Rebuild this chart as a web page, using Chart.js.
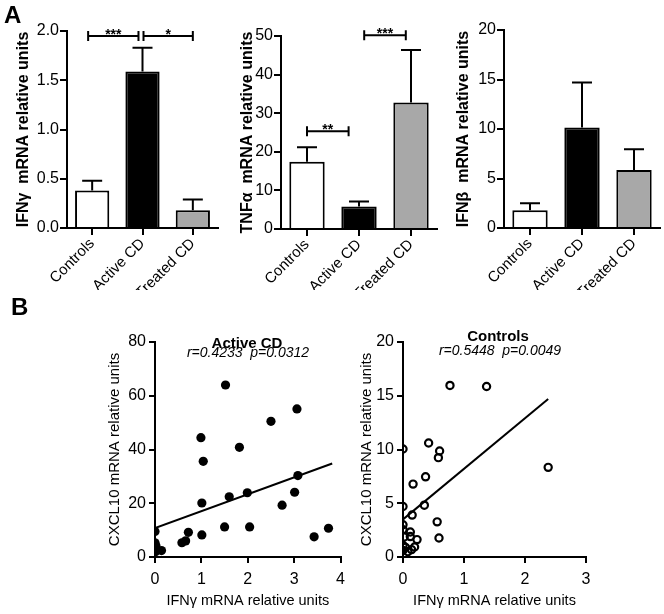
<!DOCTYPE html>
<html>
<head>
<meta charset="utf-8">
<script src="https://cdn.jsdelivr.net/npm/chart.js@4.4.1/dist/chart.umd.min.js"></script>
<style>
  body { margin: 0; background: #fff; }
  #fig { position: relative; width: 664px; height: 614px; font-family: Arial, 'Liberation Sans', sans-serif; color: #000; }
  canvas { position: absolute; }
  .txt { position: absolute; transform: translate(-50%, -50%); white-space: nowrap; }
  .panel { position: absolute; font-weight: bold; font-size: 24px; line-height: 1; }
</style>
</head>
<body>
<div id="fig">
  <canvas id="c1" width="222" height="290" style="left:0;top:0"></canvas>
  <canvas id="c2" width="218" height="290" style="left:222px;top:0"></canvas>
  <canvas id="c3" width="224" height="290" style="left:440px;top:0"></canvas>
  <canvas id="c4" width="352" height="324" style="left:0;top:290px"></canvas>
  <canvas id="c5" width="312" height="324" style="left:352px;top:290px"></canvas>

  <div class="panel" style="left:4px;top:3px">A</div>
  <div class="panel" style="left:11px;top:295px">B</div>

  <div class="txt" style="left:247px;top:342px;font-weight:bold;font-size:15px">Active CD</div>
  <div class="txt" style="left:248px;top:352px;font-style:italic;font-size:14px">r=0.4233&nbsp;&nbsp;p=0.0312</div>
  <div class="txt" style="left:498px;top:335px;font-weight:bold;font-size:15px">Controls</div>
  <div class="txt" style="left:500px;top:350px;font-style:italic;font-size:14px">r=0.5448&nbsp;&nbsp;p=0.0049</div>
</div>

<script>
// groupes
const categories = ['Controls', 'Active CD', 'Treated CD'];
const barColors = ['#ffffff', '#000000', '#a8a8a8'];

// panel A : moyennes + SEM
const ifngMean = [0.38, 1.59, 0.18];
const ifngSem = [0.10, 0.24, 0.11];
const tnfMean = [17.4, 5.8, 32.8];
const tnfSem = [3.8, 1.3, 13.6];
const ifnbMean = [1.8, 10.15, 5.85];
const ifnbSem = [0.7, 4.55, 2.1];

// significativité (positions en index de catégorie)
const ifngBrackets = [
  { from: -0.08, to: 0.92, y: 1.95, label: '***' },
  { from: 1.02, to: 2.0, y: 1.95, label: '*' }
];
const tnfBrackets = [
  { from: 0, to: 0.8, y: 25.3, label: '**' },
  { from: 1.1, to: 1.9, y: 50.2, label: '***' }
];

// panel B : Active CD
const activeX = [1.52, 3.06, 2.50, 0.99, 1.82, 1.04, 3.08, 3.01, 1.99, 1.60, 1.01, 2.74, 1.50,
                 2.04, 3.74, 3.43, 1.01, 0.72, 0.66, 0.58, 0, 0, 0, 0.14, 0.02, 0.01];
const activeY = [64.0, 55.1, 50.5, 44.4, 40.8, 35.6, 30.3, 24.1, 23.9, 22.4, 20.1, 19.3, 11.2,
                 11.2, 10.7, 7.5, 8.2, 9.2, 6.0, 5.3, 9.5, 5.3, 3.5, 2.4, 4.2, 2.0];
const activeFitX = [0, 3.82];
const activeFitY = [10.8, 34.8];

// panel B : Controls
const ctrlX = [0.77, 1.37, 2.38, 0.42, 0.60, 0.58, 0.37, 0.165, 0.35, 0.15, 0.56, 0.59, 0,
               0, 0, 0, 0.12, 0.02, 0.23, 0.12, 0, 0.04, 0.14, 0.19, 0, 0.08];
const ctrlY = [15.96, 15.86, 8.34, 10.6, 9.86, 9.24, 7.46, 6.78, 4.82, 3.9, 3.27, 1.77, 10.05,
               4.7, 3.0, 2.55, 2.33, 1.87, 1.62, 1.9, 1.09, 0.9, 0.69, 0.93, 0.6, 0.5];
const ctrlFitX = [0, 2.38];
const ctrlFitY = [3.5, 14.7];

Chart.defaults.font.family = "Arial, 'Liberation Sans', sans-serif";
Chart.defaults.color = '#000';

// barres d'erreur + crochets de significativité
const barMarks = {
  id: 'barMarks',
  afterDatasetsDraw(chart, args, opts) {
    const ctx = chart.ctx;
    const xs = chart.scales.x, ys = chart.scales.y;
    const meta = chart.getDatasetMeta(0);
    const vals = chart.data.datasets[0].data;
    ctx.save();
    ctx.strokeStyle = '#000';
    ctx.fillStyle = '#000';
    ctx.lineWidth = 2;
    (opts.sem || []).forEach((s, i) => {
      const bx = meta.data[i].x;
      const top = ys.getPixelForValue(vals[i] + s);
      ctx.beginPath();
      ctx.moveTo(bx, meta.data[i].y);
      ctx.lineTo(bx, top);
      ctx.moveTo(bx - 10, top);
      ctx.lineTo(bx + 10, top);
      ctx.stroke();
    });
    (opts.brackets || []).forEach(b => {
      const x1 = xs.getPixelForValue(b.from);
      const x2 = xs.getPixelForValue(b.to);
      const yy = ys.getPixelForValue(b.y);
      ctx.beginPath();
      ctx.moveTo(x1, yy); ctx.lineTo(x2, yy);
      ctx.moveTo(x1, yy - 5); ctx.lineTo(x1, yy + 5);
      ctx.moveTo(x2, yy - 5); ctx.lineTo(x2, yy + 5);
      ctx.stroke();
      ctx.font = 'bold 14px Arial, "Liberation Sans", sans-serif';
      ctx.textAlign = 'center';
      ctx.textBaseline = 'alphabetic';
      ctx.fillText(b.label, (x1 + x2) / 2, yy + 3);
    });
    ctx.restore();
  }
};

function axisGrid(len) {
  return { drawOnChartArea: false, color: '#000', lineWidth: 2, tickLength: len };
}

function barChart(id, mean, sem, brackets, yMax, yStep, decimals, title, pad, yWidth, xHeight) {
  return new Chart(document.getElementById(id), {
    type: 'bar',
    data: {
      labels: categories,
      datasets: [{
        data: mean,
        backgroundColor: barColors,
        borderColor: '#000',
        borderWidth: 2,
        categoryPercentage: 1,
        barPercentage: 0.68
      }]
    },
    options: {
      responsive: false,
      animation: false,
      layout: { padding: pad },
      plugins: {
        legend: { display: false },
        tooltip: { enabled: false },
        barMarks: { sem: sem, brackets: brackets }
      },
      scales: {
        x: {
          grid: Object.assign(axisGrid(7), { offset: false }),
          border: { color: '#000', width: 2 },
          ticks: { font: { size: 15 }, minRotation: 45, maxRotation: 45, padding: 0 },
          afterFit: s => { s.height = xHeight; }
        },
        y: {
          min: 0,
          max: yMax,
          grid: axisGrid(7),
          border: { color: '#000', width: 2 },
          ticks: { stepSize: yStep, font: { size: 16 }, padding: 1, callback: v => v.toFixed(decimals) },
          title: { display: true, text: title, font: { size: 16, weight: 'bold' } },
          afterFit: s => { s.width = yWidth; }
        }
      }
    },
    plugins: [barMarks]
  });
}

barChart('c1', ifngMean, ifngSem, ifngBrackets, 2, 0.5, 1, 'IFNγ  mRNA relative units',
  { left: 10, top: 31, right: 4, bottom: 0 }, 57, 62);
barChart('c2', tnfMean, tnfSem, tnfBrackets, 50, 10, 0, 'TNFα  mRNA relative units',
  { left: 12, top: 36, right: 3, bottom: 0 }, 47, 61);
barChart('c3', ifnbMean, ifnbSem, [], 20, 5, 0, 'IFNβ  mRNA relative units',
  { left: 10, top: 30, right: 4, bottom: 0 }, 54, 62);

function toPoints(xs, ys) {
  return xs.map((x, i) => ({ x: x, y: ys[i] }));
}

function scatterChart(id, xs, ys, fitX, fitY, hollow, xMax, yMax, yStep, pad, yWidth) {
  return new Chart(document.getElementById(id), {
    type: 'scatter',
    data: {
      datasets: [{
        data: toPoints(xs, ys),
        pointRadius: hollow ? 3.6 : 4.6,
        pointBackgroundColor: hollow ? 'rgba(0,0,0,0)' : '#000',
        pointBorderColor: '#000',
        pointBorderWidth: hollow ? 2.2 : 0
      }, {
        data: toPoints(fitX, fitY),
        showLine: true,
        pointRadius: 0,
        borderColor: '#000',
        borderWidth: 2
      }]
    },
    options: {
      responsive: false,
      animation: false,
      layout: { padding: pad },
      plugins: { legend: { display: false }, tooltip: { enabled: false } },
      scales: {
        x: {
          type: 'linear',
          min: 0,
          max: xMax,
          grid: axisGrid(6),
          border: { color: '#000', width: 2 },
          ticks: { stepSize: 1, font: { size: 16 }, padding: 7 },
          title: { display: true, text: 'IFNγ mRNA relative units', font: { size: 14.5 } },
          afterFit: s => { s.height = 57; }
        },
        y: {
          min: 0,
          max: yMax,
          grid: axisGrid(6),
          border: { color: '#000', width: 2 },
          ticks: { stepSize: yStep, font: { size: 16 }, padding: 3 },
          title: { display: true, text: 'CXCL10 mRNA relative units', font: { size: 15 } },
          afterFit: s => { s.width = yWidth; }
        }
      }
    }
  });
}

scatterChart('c4', activeX, activeY, activeFitX, activeFitY, false, 4, 80, 20,
  { left: 102, top: 52, right: 4, bottom: 0 }, 53);
scatterChart('c5', ctrlX, ctrlY, ctrlFitX, ctrlFitY, true, 3, 20, 5,
  { left: 2, top: 52, right: 78, bottom: 0 }, 49);
</script>
</body>
</html>
